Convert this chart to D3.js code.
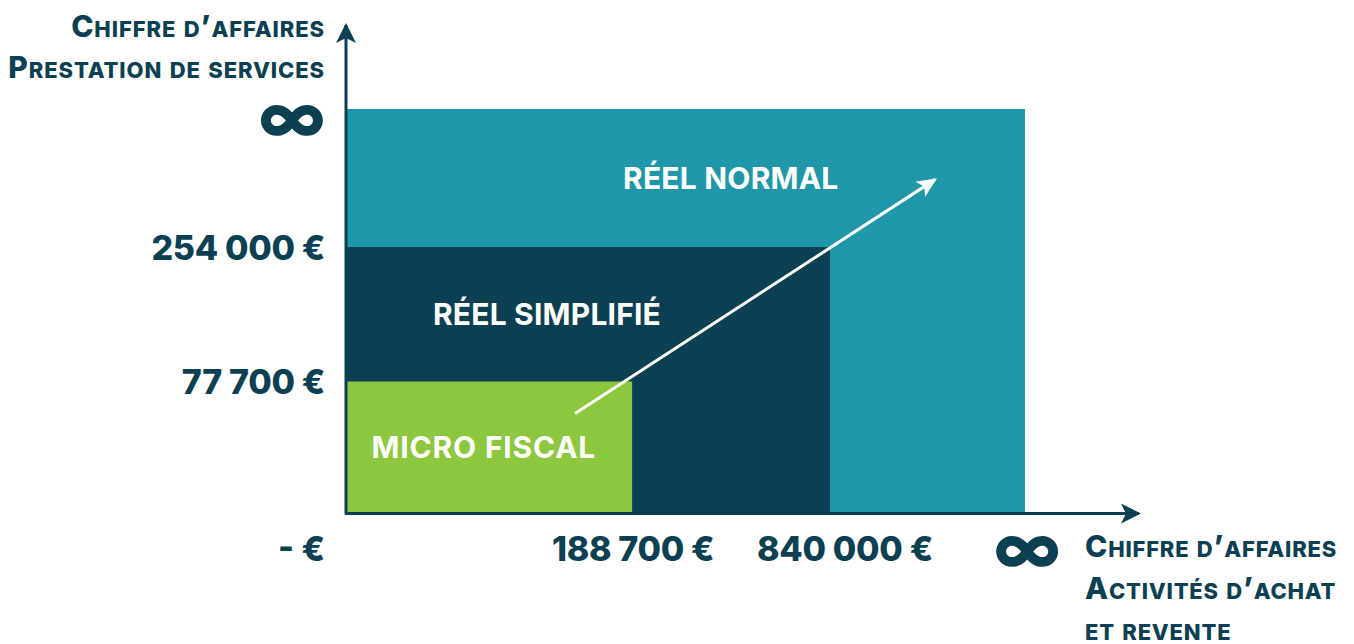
<!DOCTYPE html>
<html><head><meta charset="utf-8">
<script src="https://cdn.jsdelivr.net/npm/d3@7"></script>
<style>
html,body{margin:0;padding:0;background:#fff;}
svg{display:block;font-family:Inter,"Open Sans",sans-serif;}
</style></head>
<body>
<svg id="chart" width="1354" height="644"></svg>
<script>
// ---- data ----
const regimes = ["MICRO FISCAL", "RÉEL SIMPLIFIÉ", "RÉEL NORMAL"];
const xLimits = [188700, 840000, Infinity];   // Chiffre d'affaires – achat / revente
const yLimits = [77700, 254000, Infinity];    // Chiffre d'affaires – prestation de services
const xTickValues = [188700, 840000, Infinity];
const xTickLabels = ["188 700 €", "840 000 €", "∞"];
const yTickValues = [77700, 254000, Infinity];
const yTickLabels = ["77 700 €", "254 000 €", "∞"];
const zeroLabel = "- €";
const yTitle = ["Chiffre d’affaires", "Prestation de services"];
const xTitle = ["Chiffre d’affaires", "Activités d’achat", "et revente"];
const colors = ["#8DC63F", "#0B4053", "#2097A9"];
const ink = "#0B4053";

// ---- layout ----
const ox = 347, oy = 512, plotRight = 1025, plotTop = 109;
const xFinite = d3.scalePow().exponent(0.353).domain([0, 840000]).range([ox, 830]);
const yFinite = d3.scalePow().exponent(0.598).domain([0, 254000]).range([oy, 247]);
const x = v => v === Infinity ? plotRight : xFinite(v);
const y = v => v === Infinity ? plotTop : yFinite(v);
const labelFrac = [0.48, 0.414, 0.566];
const xLabelDx = [1, 15, 2];

const svg = d3.select("#chart");
const defs = svg.append("defs");
defs.append("marker").attr("id","axisHead").attr("viewBox","0 0 20 20")
  .attr("refX",18).attr("refY",10).attr("markerWidth",20).attr("markerHeight",20)
  .attr("markerUnits","userSpaceOnUse").attr("orient","auto")
  .append("path").attr("d","M0,0 L20,10 L0,20 L5,10 Z").attr("fill",ink);
defs.append("marker").attr("id","whiteHead").attr("viewBox","0 0 20 20")
  .attr("refX",18).attr("refY",10).attr("markerWidth",20).attr("markerHeight",20)
  .attr("markerUnits","userSpaceOnUse").attr("orient","auto")
  .append("path").attr("d","M0,1 L20,10 L0,19 L5,10 Z").attr("fill","#fff");

// regions (largest first)
const order = [2,1,0];
svg.append("g").selectAll("rect").data(order).join("rect")
  .attr("x", ox)
  .attr("y", i => y(yLimits[i]))
  .attr("width", i => x(xLimits[i]) - ox)
  .attr("height", i => oy - y(yLimits[i]))
  .attr("fill", i => colors[i]);

// region labels
svg.append("g").selectAll("text").data(order).join("text")
  .attr("x", i => ox + labelFrac[i] * (x(xLimits[i]) - ox))
  .attr("y", i => (y(yLimits[i]) + (i === 0 ? oy : y(yLimits[i-1]))) / 2)
  .attr("text-anchor","middle").attr("dominant-baseline","central")
  .attr("fill","#fff").attr("font-size",30).attr("font-weight",700)
  .attr("letter-spacing", i => i === 0 ? 0.8 : 0.2)
  .text(i => regimes[i]);

// white progression arrow
const a0 = [ox + 0.80*(x(xLimits[0]) - ox), oy - 0.754*(oy - y(yLimits[0]))];
const a1 = [x(xLimits[1]) + 0.54*(x(xLimits[2]) - x(xLimits[1])), y(yLimits[1]) - 0.49*(y(yLimits[1]) - y(yLimits[2]))];
svg.append("line").attr("x1",a0[0]).attr("y1",a0[1]).attr("x2",a1[0]).attr("y2",a1[1])
  .attr("stroke","#fff").attr("stroke-width",3).attr("marker-end","url(#whiteHead)");

// axes
svg.append("line").attr("x1",ox-1).attr("y1",oy+2).attr("x2",ox-1).attr("y2",25)
  .attr("stroke",ink).attr("stroke-width",3).attr("marker-end","url(#axisHead)");
svg.append("line").attr("x1",ox-2).attr("y1",oy+1.5).attr("x2",1139).attr("y2",oy+1.5)
  .attr("stroke",ink).attr("stroke-width",3).attr("marker-end","url(#axisHead)");

// y tick labels
const tickFont = 34, infFont = 67;
svg.append("g").selectAll("text").data(yTickValues).join("text")
  .attr("x", 325).attr("y", v => y(v) + (v === Infinity ? 7 : 0))
  .attr("text-anchor","end").attr("dominant-baseline","central")
  .attr("fill",ink).attr("font-weight",800)
  .attr("font-size", v => v === Infinity ? infFont : tickFont)
  .attr("letter-spacing", -0.3)
  .text((v,i) => yTickLabels[i]);

// x tick labels
const xLabelY = 548;
svg.append("g").selectAll("text").data(xTickValues).join("text")
  .attr("x", (v,i) => x(v) + xLabelDx[i]).attr("y", v => xLabelY + (v === Infinity ? -1 : 0))
  .attr("text-anchor","middle").attr("dominant-baseline","central")
  .attr("fill",ink).attr("font-weight",800)
  .attr("font-size", v => v === Infinity ? infFont : tickFont)
  .attr("letter-spacing", -0.3)
  .text((v,i) => xTickLabels[i]);
svg.append("text").attr("x",325).attr("y",xLabelY).attr("text-anchor","end")
  .attr("dominant-baseline","central").attr("fill",ink).attr("font-weight",800)
  .attr("font-size",tickFont).text(zeroLabel);

// small-caps helper: uppercase letters full size, lowercase letters as reduced capitals
function smallCaps(sel, big, small) {
  sel.each(function(d) {
    const t = d3.select(this);
    const runs = [];
    for (const ch of d) {
      const isLower = ch !== ch.toUpperCase();
      const last = runs[runs.length - 1];
      if (last && last.lower === isLower) last.s += ch; else runs.push({lower: isLower, s: ch});
    }
    t.selectAll("tspan").data(runs).join("tspan")
      .attr("font-size", r => r.lower ? small : big)
      .text(r => r.lower ? r.s.toUpperCase() : r.s);
  });
}

// axis titles
svg.append("g").selectAll("text").data(yTitle).join("text")
  .attr("x",325).attr("y",(d,i) => 37 + i*41)
  .attr("text-anchor","end").attr("fill",ink).attr("font-weight",800)
  .attr("letter-spacing", 0.9)
  .call(smallCaps, 30, 22);
svg.append("g").selectAll("text").data(xTitle).join("text")
  .attr("x",1085).attr("y",(d,i) => 557 + i*41.5)
  .attr("text-anchor","start").attr("fill",ink).attr("font-weight",800)
  .attr("letter-spacing", 0.8)
  .call(smallCaps, 30, 22);
</script>
</body></html>
